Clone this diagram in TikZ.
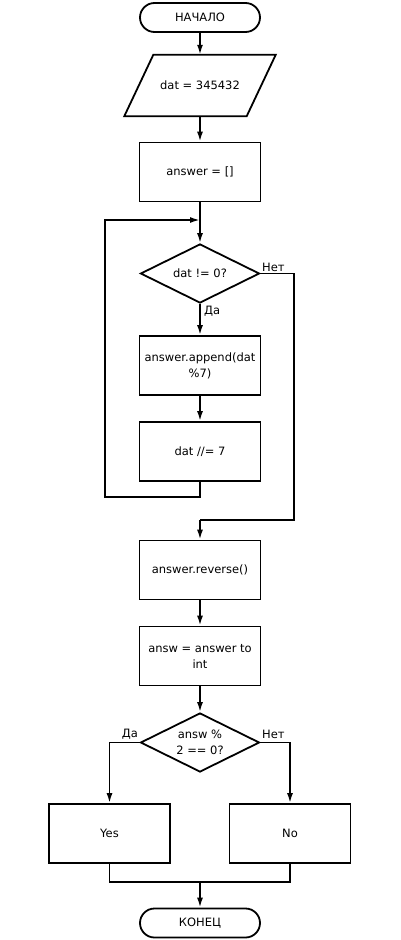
\documentclass[tikz,border=0pt]{standalone}
\usepackage{fontspec}
\setmainfont{DejaVu Sans}
\usepackage{xcolor}
\usetikzlibrary{shapes.geometric}
\usetikzlibrary{arrows.meta}

\tikzset{
    term/.style={draw, line width=1.8pt, rounded corners=14.5pt, minimum width=120pt, minimum height=29pt, inner sep=1pt},
    block/.style={draw, line width=1.8pt, minimum width=121pt, minimum height=59pt, align=center, inner sep=1pt},
    iobox/.style={minimum width=122pt, minimum height=61pt, inner sep=1pt},
    decision/.style={draw, line width=1.8pt, diamond, aspect=2, minimum width=119pt, minimum height=59pt, align=center, inner sep=0pt},
    flow/.style={line width=1.8pt, -{Latex[length=10pt,width=6pt]}},
    plain/.style={line width=1.8pt},
    lbl/.style={inner sep=1pt}
}

\begin{document}
\fontsize{11.5}{16}\selectfont
\begin{tikzpicture}[x=1pt, y=-1pt]
                \useasboundingbox (0,0) rectangle (400,940);

                %blocks
                \node[term] (start) at (200,17.5) {НАЧАЛО};
                \node[iobox] (dat) at (200,85.5) {dat = 345432};
                    \draw[plain, line join=miter] ([xshift=14.5pt]dat.north west) -- ([xshift=14.5pt]dat.north east)
                        -- ([xshift=-14.5pt]dat.south east) -- ([xshift=-14.5pt]dat.south west) -- cycle;
                \node[block] (answer) at (200,172) {answer = []};
                \node[decision] (cond) at (200,273.5) {dat != 0?};
                \node[block] (append) at (200,365.5) {answer.append(dat\\\%7)};
                \node[block] (div) at (200,451.5) {dat //= 7};
                \node[block] (reverse) at (200,570) {answer.reverse()};
                \node[block] (answ) at (200,656) {answ = answer to\\int};
                \node[decision] (even) at (200,742.5) {answ \%\\2 == 0?};
                \node[block] (yes) at (109.5,833.5) {Yes};
                \node[block] (no) at (290,833.5) {No};
                \node[term] (finish) at (200,923) {КОНЕЦ};

                % joints
                \coordinate (loopin) at (200,220);
                \coordinate (loopout) at (200,520);
                \coordinate (merge) at (200,882);

                %main line
                \draw[flow] (start) -- (dat);
                \draw[flow] (dat) -- (answer);
                \draw[plain] (answer) -- (loopin);
                \draw[flow] (loopin) -- (cond);
                \draw[flow] (cond) -- (append);
                    \node[lbl, right] (da1) at (203,311) {Да};
                \draw[flow] (append) -- (div);

                % loop back
                \draw[flow] (div.south) -- ++(0,15) -| (105,360) |- (loopin);

                % exit
                \draw[plain] (cond.east) -- (294,273.5) |- (loopout);
                    \node[lbl, above right] (net1) at (261,273) {Нет};
                \draw[flow] (loopout) -- (reverse);
                \draw[flow] (reverse) -- (answ);
                \draw[flow] (answ) -- (even);

                %branches
                \draw[flow] (even.west) -| (yes.north);
                    \node[lbl, above left] (da2) at (139,740) {Да};
                \draw[flow] (even.east) -| (no.north);
                    \node[lbl, above right] (net2) at (261,740) {Нет};
                \draw[plain] (yes.south) |- (merge);
                \draw[plain] (no.south) |- (merge);
                \draw[flow] (merge) -- (finish);

            \end{tikzpicture}
\end{document}
